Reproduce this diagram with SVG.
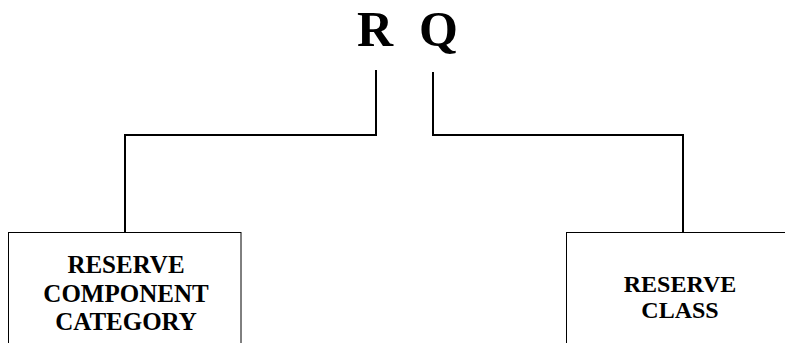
<svg xmlns="http://www.w3.org/2000/svg" width="785" height="343" viewBox="0 0 785 343">
<style>
.t{font-family:"Liberation Serif","Times New Roman",serif;font-weight:bold;fill:#000;text-anchor:middle}
.box{fill:#fff;stroke:#000;stroke-width:1}
.conn{fill:none;stroke:#000;stroke-width:2}
</style>
<rect width="785" height="343" fill="#fff"/>
<g id="root">
<text class="t" x="357" y="46" font-size="50" style="text-anchor:start">R</text>
<text class="t" x="419" y="46" font-size="50" style="text-anchor:start">Q</text>
</g>
<g id="connectors">
<polyline class="conn" points="376,70 376,135 125,135 125,232"/>
<polyline class="conn" points="433,72 433,135 683,135 683,232"/>
</g>
<g id="node-rcc">
<rect class="box" x="8.5" y="232.5" width="232.5" height="120"/>
<text class="t" font-size="25" x="126" y="273">RESERVE</text>
<text class="t" font-size="25" x="126" y="301.5">COMPONENT</text>
<text class="t" font-size="25" x="126" y="330">CATEGORY</text>
</g>
<g id="node-rc">
<rect class="box" x="566.5" y="232.5" width="230" height="120"/>
<text class="t" font-size="24" x="680" y="291.5">RESERVE</text>
<text class="t" font-size="24" x="680" y="318">CLASS</text>
</g>
</svg>
